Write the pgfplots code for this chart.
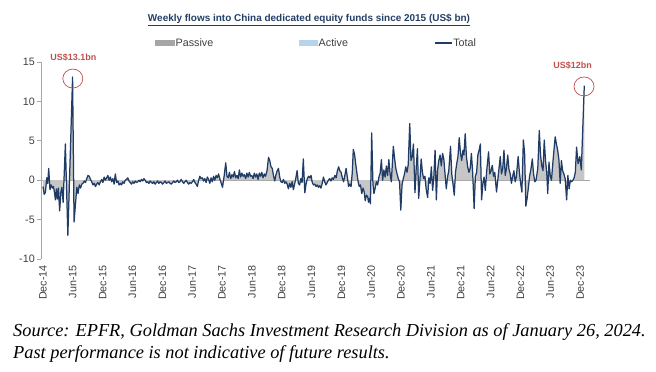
\documentclass[border=0pt]{standalone}
\usepackage{pgfplots}
\usepackage{pgfplotstable}
\pgfplotsset{compat=1.18}
\usepackage{fontspec}
\setmainfont{Liberation Sans}
\newfontfamily\srcfont{Liberation Serif}
\definecolor{navy}{HTML}{1F3B66}
\definecolor{passive}{HTML}{A6A6A6}
\definecolor{passivefill}{HTML}{C6C6C6}
\definecolor{active}{HTML}{B8D3EC}
\definecolor{annred}{HTML}{C0504D}
\definecolor{titleblue}{HTML}{243F66}
\definecolor{ticktext}{HTML}{404040}

\pgfplotstableread{
x y
0.0 -0.8
0.25 -1.8
0.5 -1.5
0.75 0.3
0.95 -0.4
1.15 1.5
1.4 -1.2
1.65 -0.6
1.9 -1.0
2.1 -0.8
2.3 -1.5
2.5 -2.5
2.7 -1.1
2.9 -2.4
3.1 -1.0
3.35 -3.9
3.6 -1.5
3.8 -0.9
4.05 -2.8
4.5 4.6
5.0 -7.0
5.95 13.1
6.25 -5.3
6.55 -2.9
6.8 -0.9
7.05 -1.7
7.3 -0.6
7.55 -1.0
7.8 -0.5
8.05 -0.4
8.3 -0.1
8.55 -0.3
8.8 0.2
9.05 0.6
9.3 0.5
9.55 0.1
9.8 -0.2
10.05 -0.6
10.3 -0.4
10.55 -0.8
10.8 -0.5
11.05 -0.3
11.3 -0.6
11.55 -0.2
11.8 0.1
12.05 -0.3
12.3 0.4
12.55 0.0
12.8 0.3
13.05 0.6
13.3 0.0
13.55 0.4
13.8 -0.2
14.05 0.2
14.3 -0.5
14.55 0.8
14.8 -0.3
15.05 -0.1
15.3 -0.6
15.55 -0.4
15.8 -0.6
16.05 -0.2
16.3 -0.4
16.55 0.0
16.8 0.1
17.05 0.3
17.3 -0.1
17.55 -0.3
17.8 -0.5
18.05 -0.2
18.3 -0.4
18.55 -0.1
18.8 -0.3
19.05 -0.2
19.3 0.0
19.55 -0.2
19.8 0.1
20.05 -0.1
20.3 0.2
20.55 0.0
20.8 -0.3
21.05 -0.2
21.3 -0.4
21.55 -0.1
21.8 -0.3
22.05 -0.4
22.3 -0.2
22.55 -0.5
22.8 -0.3
23.05 -0.1
23.3 -0.4
23.55 -0.2
23.8 -0.3
24.05 -0.5
24.3 -0.3
24.55 -0.1
24.8 -0.4
25.05 -0.3
25.3 -0.2
25.55 -0.4
25.8 -0.5
26.05 -0.3
26.3 -0.1
26.55 -0.3
26.8 -0.2
27.05 0.0
27.3 -0.3
27.55 -0.2
27.8 0.1
28.05 -0.2
28.3 -0.4
28.55 -0.2
28.8 0.0
29.05 -0.3
29.3 -0.5
29.55 -0.3
29.8 -0.4
30.05 -0.2
30.3 0.1
30.55 -0.3
30.8 -0.5
31.05 -0.8
31.3 0.0
31.55 0.5
31.8 0.2
32.05 0.3
32.3 -0.1
32.55 0.2
32.8 -0.3
33.05 0.4
33.3 0.1
33.55 -0.4
33.8 0.3
34.05 -0.2
34.3 0.5
34.55 0.0
34.8 0.6
35.05 0.3
35.3 0.8
35.55 0.2
35.8 -0.3
36.1 -0.9
36.4 0.4
36.75 2.2
37.0 0.5
37.25 0.3
37.5 1.0
37.75 0.2
38.0 0.7
38.25 0.4
38.5 1.1
38.75 0.3
39.0 0.6
39.25 0.2
39.5 1.3
39.75 0.4
40.0 0.9
40.25 0.5
40.5 0.7
40.75 0.2
41.0 0.9
41.25 0.4
41.5 1.0
41.75 0.5
42.0 0.6
42.25 0.2
42.5 0.9
42.75 0.4
43.0 0.8
43.25 0.1
43.5 0.9
43.75 0.5
44.0 1.0
44.25 0.3
44.5 0.8
44.75 0.5
45.05 1.2
45.35 2.9
45.6 2.5
45.85 1.7
46.1 1.5
46.35 0.6
46.6 -0.1
46.85 0.7
47.1 1.2
47.35 1.5
47.6 0.4
47.85 -0.2
48.1 -0.3
48.35 0.1
48.6 -0.4
48.85 -0.2
49.1 -0.5
49.35 -1.1
49.6 -0.4
49.85 -0.9
50.1 -0.2
50.35 -1.2
50.6 -0.5
50.85 0.3
51.1 1.2
51.35 -0.4
51.6 -0.6
51.85 0.2
52.1 -0.3
52.35 2.7
52.65 -1.6
52.9 -0.5
53.15 0.2
53.4 0.5
53.65 0.3
53.9 0.6
54.15 -0.3
54.4 -0.6
54.65 -0.5
54.9 -0.8
55.15 -0.6
55.4 -0.9
55.65 -0.7
55.9 -1.0
56.15 -0.4
56.4 0.4
56.65 -0.2
56.9 -0.6
57.15 -0.3
57.4 0.0
57.65 0.2
57.9 -0.1
58.15 0.3
58.4 0.1
58.7 0.6
58.95 0.3
59.2 1.2
59.45 1.7
59.7 1.2
59.95 1.0
60.2 0.3
60.45 -0.2
60.7 0.6
60.95 1.5
61.2 0.4
61.45 -0.8
61.7 -0.5
61.95 -0.8
62.2 1.0
62.4 3.9
62.65 3.3
62.9 2.0
63.15 0.8
63.4 -0.3
63.6 -0.8
63.85 -0.6
64.1 -1.7
64.35 -1.0
64.6 -1.5
64.8 -2.6
65.05 -1.9
65.3 -2.1
65.45 -2.8
65.65 -2.3
65.85 -3.0
66.1 6.0
66.35 -0.5
66.55 -1.7
66.8 -1.0
67.05 -0.2
67.3 -0.6
67.55 0.4
67.8 0.9
68.05 2.6
68.3 0.0
68.55 1.3
68.8 0.4
69.05 1.8
69.3 0.6
69.55 2.6
69.8 0.8
70.05 -0.2
70.45 4.3
70.7 2.8
70.95 1.5
71.2 0.8
71.45 0.2
71.7 -0.2
71.95 -3.8
72.2 -0.6
72.45 0.2
72.7 0.8
72.95 1.7
73.2 1.0
73.45 2.0
73.75 7.2
74.0 2.5
74.25 3.0
74.5 4.6
74.8 -1.6
75.05 1.5
75.3 4.0
75.55 -2.3
75.8 0.0
76.05 2.7
76.3 1.0
76.55 0.2
76.8 0.5
77.05 -1.1
77.35 -2.2
77.6 0.3
77.85 -0.4
78.1 1.7
78.35 -1.3
78.6 0.5
78.85 3.8
79.1 -2.5
79.35 1.3
79.6 2.5
79.85 3.2
80.1 1.8
80.35 3.4
80.6 2.7
80.85 0.8
81.1 -1.1
81.35 0.4
81.6 1.2
81.95 4.3
82.2 0.8
82.45 -0.5
82.7 -1.9
82.95 1.0
83.2 2.1
83.45 3.0
83.7 5.4
83.95 3.5
84.2 2.5
84.45 3.8
84.65 3.2
84.9 5.9
85.15 3.0
85.4 1.7
85.65 1.0
85.9 1.5
86.15 3.4
86.4 1.0
86.7 -3.6
86.95 0.5
87.2 1.0
87.45 3.2
87.7 3.8
87.95 4.6
88.2 -2.5
88.45 -0.5
88.7 0.4
88.95 -1.3
89.2 1.0
89.6 3.6
89.85 0.8
90.1 1.2
90.35 1.9
90.6 0.5
90.85 1.0
91.2 -1.5
91.45 0.0
91.7 1.5
91.95 3.0
92.2 0.8
92.45 1.5
92.7 3.8
92.95 0.6
93.2 1.5
93.45 3.2
93.7 1.4
93.95 0.8
94.2 -0.4
94.45 0.5
94.7 1.2
94.95 -0.2
95.2 0.5
95.55 3.0
95.8 1.0
96.05 -0.4
96.3 -1.5
96.6 5.1
96.85 3.4
97.1 -3.3
97.35 -2.3
97.6 -1.0
97.85 0.5
98.1 1.3
98.4 2.7
98.65 0.8
98.9 -0.2
99.15 0.0
99.5 1.5
99.8 6.3
100.05 3.2
100.3 1.8
100.55 1.2
100.8 5.1
101.05 2.5
101.3 1.0
101.5 -1.7
101.75 2.3
102.0 0.6
102.25 0.0
102.5 2.0
102.75 3.8
103.0 5.5
103.25 4.6
103.5 3.8
103.75 2.6
104.0 -0.4
104.25 2.5
104.5 1.2
104.75 0.8
105.0 0.2
105.3 -2.5
105.55 0.6
105.8 -1.1
106.05 0.0
106.3 -0.2
106.55 0.0
106.8 0.3
107.05 1.0
107.3 4.2
107.6 2.1
107.95 3.0
108.25 1.3
108.85 12.0
}\total

\begin{document}
\begin{tikzpicture}
\path[use as bounding box] (0bp,0bp) rectangle (656bp,372bp);
\begin{axis}[
  at={(41bp,113bp)}, anchor=south west,
  scale only axis, width=549bp, height=197bp,
  xmin=-0.4, xmax=110, ymin=-10, ymax=15,
  axis x line*=bottom, axis y line*=left,
  x axis line style={draw=none},
  y axis line style={draw=black!35, line width=0.6bp},
  xtick={0,6,...,108},
  xticklabels={Dec-14,Jun-15,Dec-15,Jun-16,Dec-16,Jun-17,Dec-17,Jun-18,Dec-18,Jun-19,Dec-19,Jun-20,Dec-20,Jun-21,Dec-21,Jun-22,Dec-22,Jun-23,Dec-23},
  xtick style={draw=none},
  xticklabel style={rotate=90, anchor=east, font=\fontsize{10.8}{12}\selectfont, text=ticktext, inner sep=2bp},
  ytick={-10,-5,0,5,10,15},
  yticklabels={-10,-5,0,5,10,15},
  ytick style={draw=black!35, line width=0.6bp},
  tick align=outside, major tick length=4bp,
  yticklabel style={font=\fontsize{10.8}{12}\selectfont, text=ticktext, inner sep=2bp},
  extra y ticks={0}, extra y tick labels={},
  extra y tick style={grid=major, major grid style={draw=black!35, line width=0.6bp}, tick style={draw=none}},
  clip=false,
  legend columns=3,
  legend style={at={(0.2077,1.0964)}, anchor=west, draw=none, fill=none, inner sep=0pt,
    font=\fontsize{10.8}{12}\selectfont, text=ticktext,
    /tikz/every even column/.append style={column sep=85bp},
    nodes={inner sep=1bp}},
  legend cell align=left,
]
\addplot[fill=passivefill, draw=none, forget plot] table[x=x,y=y] {\total} \closedcycle;
\addlegendimage{legend image code/.code={\fill[passive] (0bp,-2.5bp) rectangle (19bp,2.5bp);}}
\addlegendentry{Passive}
\addlegendimage{legend image code/.code={\fill[active] (0bp,-2.5bp) rectangle (18bp,2.5bp);}}
\addlegendentry{Active}
\addplot[navy, line width=1.25bp, line join=round] table[x=x,y=y] {\total};
\addlegendentry{Total}
\draw[annred, line width=0.7bp] (axis cs:6.0,12.9) ellipse [x radius=10bp, y radius=9.5bp];
\draw[annred, line width=0.7bp] (axis cs:108.8,11.9) ellipse [x radius=10bp, y radius=9.5bp];
\node[annred, font=\bfseries\fontsize{9}{10}\selectfont] at (axis cs:6.1,15.6) {US\$13.1bn};
\node[annred, font=\bfseries\fontsize{9}{10}\selectfont] at (axis cs:106.5,14.6) {US\$12bn};
\end{axis}
\node[text=titleblue, font=\bfseries\fontsize{10}{12}\selectfont] at (309bp,352bp) {\underline{Weekly flows into China dedicated equity funds since 2015 (US\$ bn)}};
\node[anchor=base west, inner sep=0, font=\srcfont\itshape\fontsize{18.4}{22}\selectfont] at (13bp,36bp) {Source: EPFR, Goldman Sachs Investment Research Division as of January 26, 2024.};
\node[anchor=base west, inner sep=0, font=\srcfont\itshape\fontsize{18.4}{22}\selectfont] at (13bp,14bp) {Past performance is not indicative of future results.};
\end{tikzpicture}
\end{document}
